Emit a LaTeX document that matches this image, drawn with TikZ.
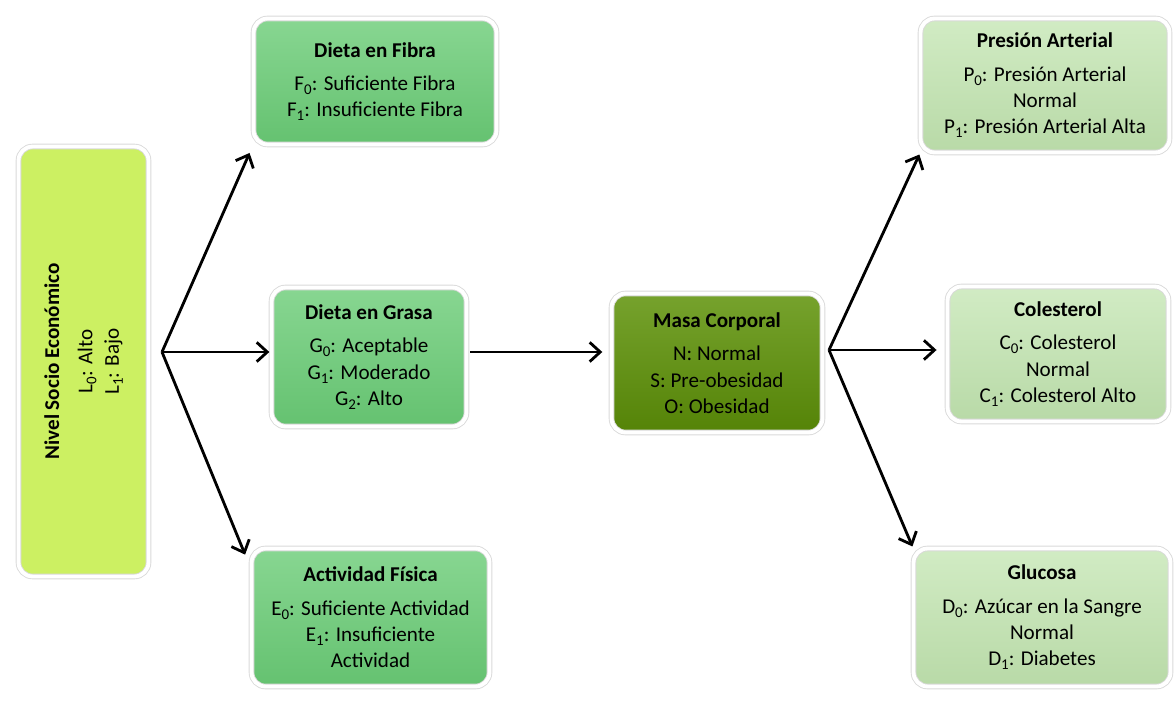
\documentclass[tikz,border=0pt]{standalone}
\usepackage{fontspec}
\setmainfont{Carlito}
\usepackage{xcolor}
\usepackage{tikz}
\usetikzlibrary{arrows.meta,positioning,shadows}

\definecolor{nivelfill}{RGB}{204,240,98}
\definecolor{dietafill}{RGB}{106,204,118}
\definecolor{masafill}{RGB}{94,146,8}
\definecolor{saludfill}{RGB}{194,229,176}

% subindice de las variables
\newcommand{\sbi}[1]{\raisebox{-0.4ex}{\fontsize{8.5}{8.5}\selectfont#1}}

\begin{document}
\begin{tikzpicture}[
    x=0.02cm, y=-0.02cm,
    box/.style={draw=gray!30, line width=0.5pt, double=white, double distance=2.2pt,
        rounded corners=8pt, align=center, inner sep=2pt,
        font=\fontsize{12}{15}\selectfont,
        drop shadow={opacity=0.25, shadow xshift=0.8pt, shadow yshift=-0.8pt}},
    nivelbox/.style={box, fill=nivelfill},
    dietabox/.style={box, top color=dietafill!80!white, bottom color=dietafill!95!black},
    masabox/.style={box, top color=masafill!85!white, bottom color=masafill!90!black},
    saludbox/.style={box, top color=saludfill!75!white, bottom color=saludfill!95!black},
    arr/.style={-{Straight Barb[length=6pt, width=11pt]}, line width=1.6pt, black}
]
\useasboundingbox (0,0) rectangle (1176,705);

% entrada
\node[nivelbox, rotate=90, minimum width=8.6cm, minimum height=2.6cm] (nivel) at (83.5,361.5)
    {\textbf{Nivel Socio Económico}\\[4pt] L\sbi{0}: Alto\\ L\sbi{1}: Bajo};

% dieta y actividad
\node[dietabox, minimum width=4.86cm, minimum height=2.52cm] (fibra) at (375,81.5)
    {\textbf{Dieta en Fibra}\\[4pt] F\sbi{0}: Suficiente Fibra\\ F\sbi{1}: Insuficiente Fibra};
\node[dietabox, minimum width=3.9cm, minimum height=2.78cm] (grasa) at (369,357)
    {\textbf{Dieta en Grasa}\\[4pt] G\sbi{0}: Aceptable\\ G\sbi{1}: Moderado\\ G\sbi{2}: Alto};
\node[dietabox, minimum width=4.76cm, minimum height=2.76cm] (activ) at (370.5,617.5)
    {\textbf{Actividad Física}\\[4pt] E\sbi{0}: Suficiente Actividad\\ E\sbi{1}: Insuficiente\\ Actividad};

% masa corporal
\node[masabox, minimum width=4.22cm, minimum height=2.78cm] (masa) at (717,363)
    {\textbf{Masa Corporal}\\[4pt] N: Normal\\ S: Pre-obesidad\\ O: Obesidad};

% salud
\node[saludbox, minimum width=4.98cm, minimum height=2.68cm] (presion) at (1045,85.5)
    {\textbf{Presión Arterial}\\[4pt] P\sbi{0}: Presión Arterial\\ Normal\\ P\sbi{1}: Presión Arterial Alta};
\node[saludbox, minimum width=4.42cm, minimum height=2.7cm] (colest) at (1058,354)
    {\textbf{Colesterol}\\[4pt] C\sbi{0}: Colesterol\\ Normal\\ C\sbi{1}: Colesterol Alto};
\node[saludbox, minimum width=5.14cm, minimum height=2.76cm] (gluc) at (1042,617.5)
    {\textbf{Glucosa}\\[4pt] D\sbi{0}: Azúcar en la Sangre\\ Normal\\ D\sbi{1}: Diabetes};

\coordinate (lfan) at (162,352);
\coordinate (rfan) at (829,350);

\draw[arr, shorten >=5pt] (lfan) -- (fibra.south west);
\draw[arr, shorten >=1pt] (lfan) -- (grasa.west |- lfan);
\draw[arr, shorten >=9pt] (lfan) -- (activ.158);
\draw[arr, shorten <=2pt, shorten >=5pt] (grasa.east |- lfan) -- (masa.west |- lfan);
\draw[arr, shorten >=1pt] (rfan) -- (presion.south west);
\draw[arr, shorten >=6pt] (rfan) -- (colest.west |- rfan);
\draw[arr, shorten >=1pt] (rfan) -- (gluc.north west);
\end{tikzpicture}
\end{document}
